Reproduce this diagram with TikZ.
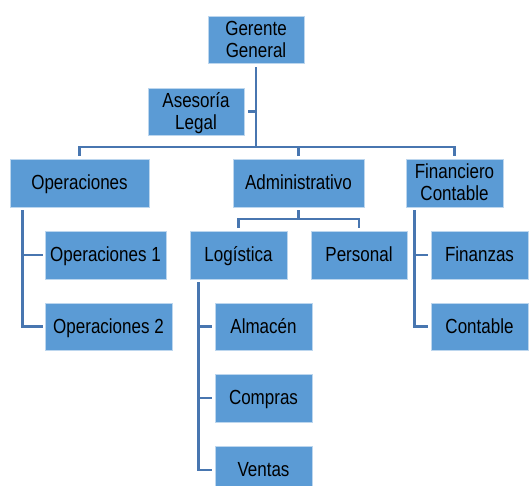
\documentclass[tikz,border=0pt]{standalone}
\usepackage{fontspec}
\usepackage{graphicx}
\setmainfont{Liberation Sans}
\usetikzlibrary{calc}
\definecolor{boxfill}{HTML}{5B9BD5}
\definecolor{boxedge}{HTML}{BCD6EE}
\definecolor{linec}{HTML}{4876B0}
\newcommand{\boxtxt}[1]{\raisebox{-2.2pt}[\height][\depth]{\scalebox{1}[1.2]{\begin{tabular}{@{}c@{}}#1\end{tabular}}}}
\tikzset{
  orgbox/.style={rectangle, fill=boxfill, draw=boxedge, line width=0.8pt,
    inner sep=0pt, minimum height=47pt, text=black,
    font=\fontsize{17}{18.3}\selectfont},
  conn/.style={draw=linec, line width=2.3pt},
  trunk/.style={draw=linec, line width=2.8pt}
}
\begin{document}
\begin{tikzpicture}[x=1pt,y=-1pt]
\useasboundingbox (0,0) rectangle (530,485);
\fill[white] (0,0) rectangle (530,485);
\clip (0,0) rectangle (530,485);
% boxes
\node[orgbox, minimum width=96pt]  (ger) at (256,39.5)  {\boxtxt{Gerente\\General}};
\node[orgbox, minimum width=96pt]  (ase) at (196,111.5) {\boxtxt{Asesoría\\Legal}};
\node[orgbox, minimum width=139pt, minimum height=48pt] (ope) at (79.5,183)  {\boxtxt{Operaciones}};
\node[orgbox, minimum width=131pt, minimum height=48pt] (adm) at (298.5,183) {\boxtxt{Administrativo}};
\node[orgbox, minimum width=97pt, minimum height=48pt]  (fin) at (454.5,183) {\boxtxt{Financiero\\Contable}};
\node[orgbox, minimum width=121pt, minimum height=48pt] (op1) at (105.5,255) {\boxtxt{Operaciones 1}};
\node[orgbox, minimum width=127pt] (op2) at (108.5,326.5) {\boxtxt{Operaciones 2}};
\node[orgbox, minimum width=97pt, minimum height=48pt]  (log) at (238.5,255) {\boxtxt{Logística}};
\node[orgbox, minimum width=96pt, minimum height=48pt]  (per) at (359,255)   {\boxtxt{Personal}};
\node[orgbox, minimum width=97pt]  (alm) at (263.5,326.5) {\boxtxt{Almacén}};
\node[orgbox, minimum width=97pt, minimum height=48pt]  (com) at (263.5,398) {\boxtxt{Compras}};
\node[orgbox, minimum width=97pt, minimum height=48pt]  (ven) at (263.5,470) {\boxtxt{Ventas}};
\node[orgbox, minimum width=97pt, minimum height=48pt]  (fnz) at (479.5,255) {\boxtxt{Finanzas}};
\node[orgbox, minimum width=97pt]  (con) at (479.5,326.5) {\boxtxt{Contable}};
% top level connectors
\coordinate (bar) at (0,147);
\draw[trunk] ([yshift=-4pt]ger.south) -- (ger.south |- bar);
\draw[conn] ([xshift=4pt]ase.east) -- (ger.south |- ase.east);
\draw[conn] ([yshift=3pt]ope.north) -- (ope.north |- bar) -| ([yshift=3pt]fin.north);
\draw[conn] ([yshift=3pt]adm.north) -- (adm.north |- bar);
% operaciones
\coordinate (opx) at ([xshift=13pt,yshift=-3pt]ope.south west);
\draw[conn] (opx) |- ([xshift=-2pt]op2.west);
\draw[conn] (opx |- op1.west) -- ([xshift=-2pt]op1.west);
% administrativo
\coordinate (admbar) at (0,219);
\draw[conn] ([yshift=-3pt]adm.south) -- (adm.south |- admbar);
\draw[conn] ([yshift=3pt]log.north) -- (log.north |- admbar) -| ([yshift=3pt]per.north);
% logistica
\coordinate (logx) at ([xshift=9pt,yshift=-3pt]log.south west);
\draw[conn] (logx) |- ([xshift=-3pt]ven.west);
\draw[conn] (logx |- alm.west) -- ([xshift=-3pt]alm.west);
\draw[conn] (logx |- com.west) -- ([xshift=-3pt]com.west);
% financiero
\coordinate (finx) at ([xshift=9pt,yshift=-3pt]fin.south west);
\draw[conn] (finx) |- ([xshift=-3pt]con.west);
\draw[conn] (finx |- fnz.west) -- ([xshift=-3pt]fnz.west);
\end{tikzpicture}
\end{document}
